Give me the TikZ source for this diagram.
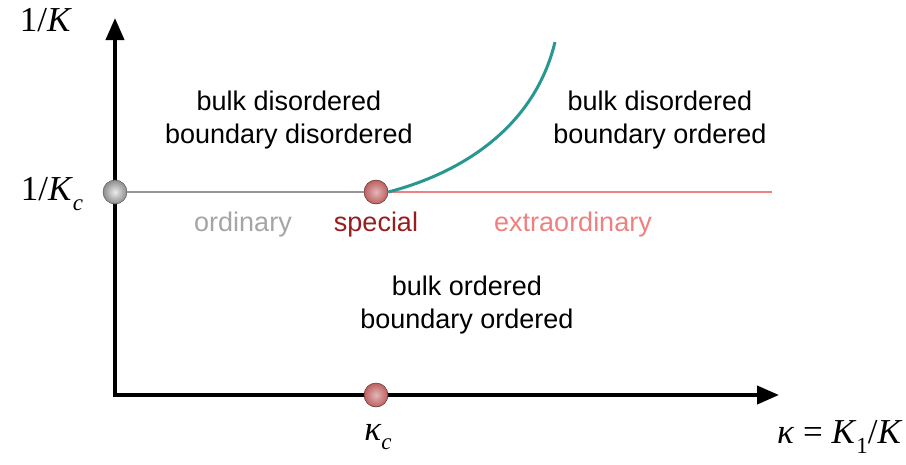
\documentclass[tikz,border=0pt]{standalone}
\usepackage{fontspec}
\setmainfont{Liberation Sans}
\newfontfamily\mathser{Liberation Serif}
\usetikzlibrary{arrows.meta,shadings}
\definecolor{tealc}{RGB}{40,150,145}
\definecolor{pinkc}{RGB}{240,128,128}
\definecolor{grayc}{RGB}{150,150,150}
\definecolor{ordc}{RGB}{165,165,165}
\definecolor{specc}{RGB}{150,30,30}
\definecolor{dotred}{RGB}{190,95,95}
\definecolor{dotgray}{RGB}{140,140,140}
\newcommand{\msub}[1]{\raisebox{-0.28em}{\fontsize{23}{23}\selectfont\itshape #1}}
\newcommand{\msubup}[1]{\raisebox{-0.28em}{\fontsize{23}{23}\selectfont #1}}
\begin{document}
\begin{tikzpicture}[x=1pt,y=-1pt,
  axis/.style={line width=4pt,-{Triangle[length=22pt,width=18pt]}},
  region/.style={font=\fontsize{27}{33}\selectfont,align=center,text=black},
  phase/.style={font=\fontsize{27}{33}\selectfont},
  mlabel/.style={font=\mathser\fontsize{35}{35}\selectfont},
  ballg/.style={circle,minimum size=24pt,inner sep=0pt,shading=radial,inner color=white!85!gray,outer color=dotgray,draw=gray!70!black,line width=0.5pt},
  ballr/.style={circle,minimum size=24pt,inner sep=0pt,shading=radial,inner color=white!55!dotred,outer color=dotred,draw=dotred!50!black,line width=0.5pt}]
\useasboundingbox (0,0) rectangle (906,464);
\coordinate (O) at (115,395);
\coordinate (Ybase) at (115,397);
\coordinate (Xbase) at (113,395);
\coordinate (Ytip) at (115,18);
\coordinate (Xtip) at (779,395);
\coordinate (Pend) at (772,192);
\coordinate (Tend) at (555,42);
% axes
\draw[axis] (Ybase) -- (Ytip);
\draw[axis] (Xbase) -- (Xtip);
% points
\node[ballg] (G) at (115,192) {};
\node[ballr] (S) at (376,192) {};
\node[ballr] (Kc) at (376,395) {};
% phase lines
\draw[grayc,line width=2.5pt] (G) -- (S);
\draw[pinkc,line width=2.5pt] (S) -- (Pend);
\draw[tealc,line width=3pt] (S.east) .. controls (465,172) and (535,125) .. (Tend);
% axis labels
\node[mlabel] (Ylab) at (46,20) {1/\textit{K}};
\node[mlabel] (Kclab) at (52,194) {1/\textit{K}\msub{c}};
\node[mlabel] (kclab) at (378,437) {\textit{κ}\msub{c}};
\node[mlabel,anchor=east] (xlab) at (906,437) {\textit{κ} = \textit{K}\msubup{1}/\textit{K}};
% region texts
\node[region] (R1) at (289,120) {bulk disordered\\boundary disordered};
\node[region] (R2) at (660,120) {bulk disordered\\boundary ordered};
\node[region] (R3) at (467,305) {bulk ordered\\boundary ordered};
\node[phase,text=ordc] (ord) at (243,225) {ordinary};
\node[phase,text=specc] (spec) at (376,225) {special};
\node[phase,text=pinkc] (extra) at (573,225) {extraordinary};
\end{tikzpicture}
\end{document}
